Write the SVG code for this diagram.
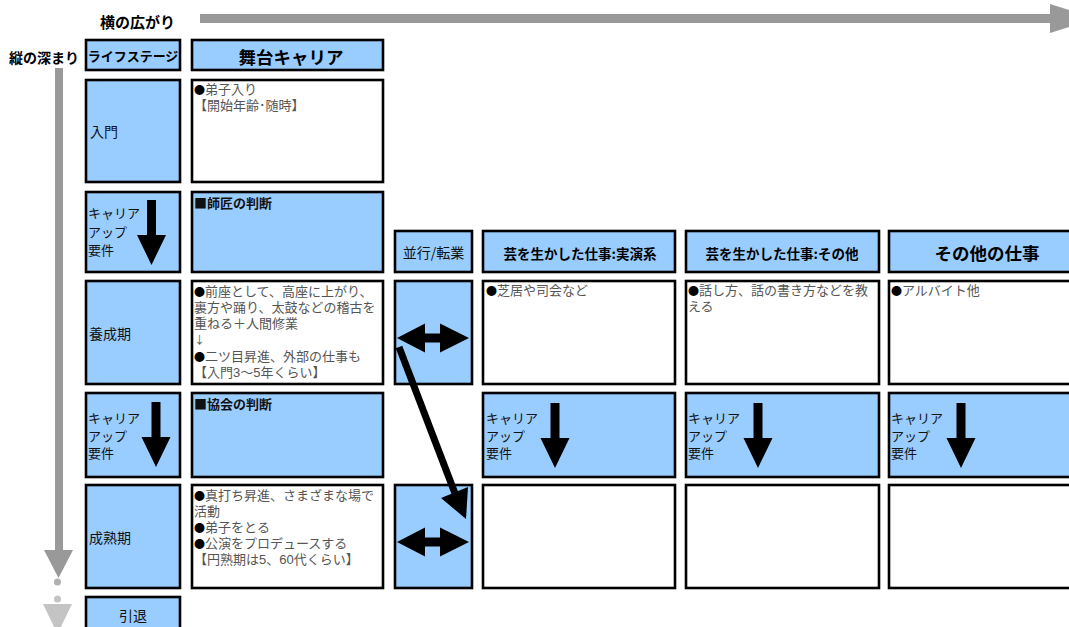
<svg xmlns="http://www.w3.org/2000/svg" width="1069" height="627" viewBox="0 0 1069 627">
<style>
text{font-family:"Noto Sans CJK JP","Noto Sans CJK SC",sans-serif;dominant-baseline:central}
.blue{fill:#99CCFF;stroke:#000;stroke-width:2.6}
.white{fill:#fff;stroke:#000;stroke-width:2.6}
.hd{font-weight:bold;fill:#000}
.lab{font-size:14px;fill:#111}
text.body{font-family:"Liberation Sans","Noto Sans CJK JP","Noto Sans CJK SC",sans-serif;font-size:13px;fill:#555}
.dot{fill:#000;font-family:"Noto Sans CJK JP",sans-serif;font-size:11px}
.ar{font-family:"Noto Sans CJK JP",sans-serif;font-size:11px}
.judge{font-size:13px;fill:#111;font-weight:bold}
text.req{font-family:"Liberation Sans","Noto Sans CJK JP","Noto Sans CJK SC",sans-serif;font-size:13px;fill:#111}
</style>
<defs>
<g id="downArrow"><polygon points="-4.5,0 4.5,0 4.5,35 14.5,35 0,65 -14.5,35 -4.5,35"/></g>
<g id="dblArrow"><polygon points="0,0 28,-14.5 28,-4.5 43,-4.5 43,-14.5 72,0 43,14.5 43,4.5 28,4.5 28,14.5"/></g>
</defs>

<g id="axis-labels">
<text x="100" y="21" class="hd" style="font-size:15px">横の広がり</text>
<text x="9" y="57" class="hd" style="font-size:14px">縦の深まり</text>
</g>

<g id="axes">
<rect x="200" y="14" width="850" height="9" fill="#999"/>
<polygon points="1050,4 1050,33 1096,18.5" fill="#999"/>
<rect x="55" y="68" width="8" height="482" fill="#999"/>
<polygon points="44,550 73,550 58.5,578" fill="#999"/>
<circle cx="57.5" cy="582" r="3.5" fill="#b0b0b0"/>
<circle cx="57.5" cy="599" r="3.5" fill="#c4c4c4"/>
<polygon points="43,604 72,604 57.5,634" fill="#c4c4c4"/>
</g>

<g id="hdr-lifestage"><rect x="86" y="40" width="94" height="30" class="blue"/><text x="133" y="55" class="hd" text-anchor="middle" style="font-size:13px">ライフステージ</text></g>
<g id="hdr-stage"><rect x="192" y="40" width="191" height="30" class="blue"/><text x="291" y="56" class="hd" text-anchor="middle" style="font-size:17.5px">舞台キャリア</text></g>

<g id="ls-nyumon"><rect x="86" y="80" width="94" height="102" class="blue"/><text x="90" y="131" class="lab">入門</text></g>
<g id="st-nyumon"><rect x="192" y="80" width="191" height="102" class="white"/>
<text x="194" y="89" class="body"><tspan class="dot">●</tspan>弟子入り</text>
<text x="194" y="105" class="body">【開始年齢･随時】</text></g>

<g id="ls-req1"><rect x="86" y="192" width="94" height="80" class="blue"/>
<text x="88" y="213" class="req">キャリア</text><text x="88" y="232" class="req">アップ</text><text x="88" y="250" class="req">要件</text>
<use href="#downArrow" x="151.5" y="200"/></g>
<g id="st-req1"><rect x="192" y="192" width="191" height="80" class="blue"/><text x="194" y="202" class="judge">■師匠の判断</text></g>

<g id="ls-yosei"><rect x="86" y="281" width="94" height="103" class="blue"/><text x="89" y="333" class="lab">養成期</text></g>
<g id="st-yosei"><rect x="192" y="281" width="191" height="103" class="white"/>
<text x="194" y="291" class="body"><tspan class="dot">●</tspan>前座として、高座に上がり、</text>
<text x="194" y="307" class="body">裏方や踊り、太鼓などの稽古を</text>
<text x="194" y="323" class="body">重ねる＋人間修業</text>
<text x="194" y="339" class="body"><tspan class="ar">↓</tspan></text>
<text x="194" y="356" class="body"><tspan class="dot">●</tspan>二ツ目昇進、外部の仕事も</text>
<text x="194" y="372" class="body">【入門3～5年くらい】</text></g>

<g id="ls-req2"><rect x="86" y="393" width="94" height="84" class="blue"/>
<text x="88" y="418" class="req">キャリア</text><text x="88" y="436" class="req">アップ</text><text x="88" y="453" class="req">要件</text>
<use href="#downArrow" x="156" y="402"/></g>
<g id="st-req2"><rect x="192" y="393" width="191" height="84" class="blue"/><text x="194" y="403" class="judge">■協会の判断</text></g>

<g id="ls-seijuku"><rect x="86" y="485" width="94" height="103" class="blue"/><text x="89" y="537" class="lab">成熟期</text></g>
<g id="st-seijuku"><rect x="192" y="485" width="191" height="103" class="white"/>
<text x="194" y="495" class="body"><tspan class="dot">●</tspan>真打ち昇進、さまざまな場で</text>
<text x="194" y="511" class="body">活動</text>
<text x="194" y="527" class="body"><tspan class="dot">●</tspan>弟子をとる</text>
<text x="194" y="543" class="body"><tspan class="dot">●</tspan>公演をプロデュースする</text>
<text x="194" y="559" class="body">【円熟期は5、60代くらい】</text></g>

<g id="ls-intai"><rect x="86" y="597" width="94" height="40" class="blue"/><text x="133" y="615" class="lab" text-anchor="middle">引退</text></g>

<g id="hdr-parallel"><rect x="395" y="231" width="77" height="41" class="blue"/><text x="433.5" y="252" class="lab" text-anchor="middle">並行/転業</text></g>
<g id="hdr-perf"><rect x="483" y="231" width="192" height="41" class="blue"/><text x="580" y="253" class="hd" text-anchor="middle" style="font-size:13.5px">芸を生かした仕事:実演系</text></g>
<g id="hdr-other-art"><rect x="686" y="231" width="193" height="41" class="blue"/><text x="782" y="253" class="hd" text-anchor="middle" style="font-size:13.5px">芸を生かした仕事:その他</text></g>
<g id="hdr-other"><rect x="889" y="231" width="200" height="41" class="blue"/><text x="987" y="252" class="hd" text-anchor="middle" style="font-size:17.5px">その他の仕事</text></g>

<g id="par-yosei"><rect x="395" y="281" width="77" height="103" class="blue"/><use href="#dblArrow" x="397" y="338"/></g>
<g id="perf-yosei"><rect x="483" y="281" width="192" height="103" class="white"/><text x="486" y="290" class="body"><tspan class="dot">●</tspan>芝居や司会など</text></g>
<g id="otherart-yosei"><rect x="686" y="281" width="193" height="103" class="white"/>
<text x="688" y="290" class="body"><tspan class="dot">●</tspan>話し方、話の書き方などを教</text>
<text x="688" y="306" class="body">える</text></g>
<g id="other-yosei"><rect x="889" y="281" width="200" height="103" class="white"/><text x="891" y="290" class="body"><tspan class="dot">●</tspan>アルバイト他</text></g>

<g id="perf-req"><rect x="483" y="393" width="192" height="84" class="blue"/>
<text x="486" y="418" class="req">キャリア</text><text x="486" y="436" class="req">アップ</text><text x="486" y="453" class="req">要件</text>
<use href="#downArrow" x="555" y="403"/></g>
<g id="otherart-req"><rect x="686" y="393" width="193" height="84" class="blue"/>
<text x="688" y="418" class="req">キャリア</text><text x="688" y="436" class="req">アップ</text><text x="688" y="453" class="req">要件</text>
<use href="#downArrow" x="758" y="403"/></g>
<g id="other-req"><rect x="889" y="393" width="200" height="84" class="blue"/>
<text x="891" y="418" class="req">キャリア</text><text x="891" y="436" class="req">アップ</text><text x="891" y="453" class="req">要件</text>
<use href="#downArrow" x="961" y="403"/></g>

<g id="par-seijuku"><rect x="395" y="485" width="77" height="103" class="blue"/><use href="#dblArrow" x="397" y="542"/></g>
<g id="perf-seijuku"><rect x="483" y="485" width="192" height="103" class="white"/></g>
<g id="otherart-seijuku"><rect x="686" y="485" width="193" height="103" class="white"/></g>
<g id="other-seijuku"><rect x="889" y="485" width="200" height="103" class="white"/></g>

<g id="connectors">
<line x1="399" y1="347" x2="456" y2="496" stroke="#000" stroke-width="7"/>
<polygon points="441,498 468,487 466,519" fill="#000"/>
</g>
</svg>
